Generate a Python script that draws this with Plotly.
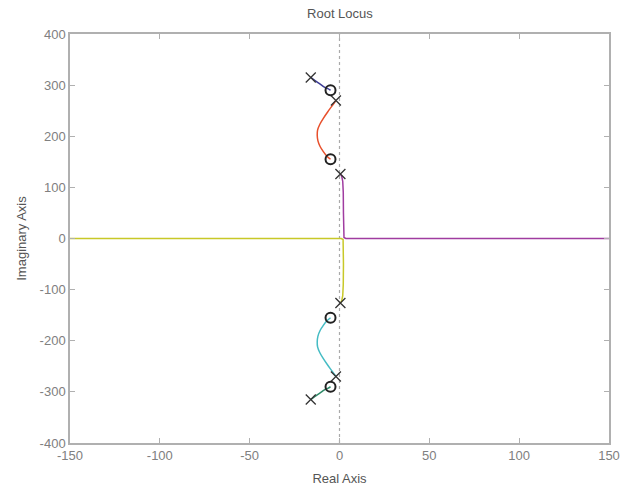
import plotly.graph_objects as go

# Poles and zeros
pole_re = [-16, -2, 0.5, 0.5, -2, -16]
pole_im = [315, 270, 126, -126, -270, -315]
zero_re = [-5, -5, -5, -5]
zero_im = [290, 155, -155, -290]

# Branches (upper half, lower half mirrored)
navy_re = [-16, -14, -12, -10, -8.4, -6.5, -5]
navy_im = [315, 310, 305, 300, 296, 293, 290]
red_re = [-2, -4, -6.5, -9, -11, -12.2, -12.4, -12, -10.8, -9, -7, -5]
red_im = [270, 260, 248, 235, 223, 212, 202, 191, 180, 170, 161, 155]
purple_re = [0.5, 1.2, 1.8, 2.1, 2.2, 2.3, 2.5, 3.5, 150]
purple_im = [126, 122, 112, 90, 50, 10, 2, 0, 0]
yellow_re = [0.5, 1.2, 1.8, 2.1, 2.2, 2.3, 2.0, 1.0, -150]
yellow_im = [-126, -122, -112, -90, -50, -10, -2, 0, 0]
cyan_re = red_re
cyan_im = [-v for v in red_im]
green_re = navy_re
green_im = [-v for v in navy_im]

branches = [
    (navy_re, navy_im, "#3b3b95", "spline"),
    (red_re, red_im, "#e8502c", "spline"),
    (purple_re, purple_im, "#a03ca0", "linear"),
    (yellow_re, yellow_im, "#c8c828", "linear"),
    (cyan_re, cyan_im, "#45bcc4", "spline"),
    (green_re, green_im, "#2e8a68", "spline"),
]

x_range = [-150, 150]
y_range = [-400, 400]
x_ticks = [-150, -100, -50, 0, 50, 100, 150]
y_ticks = [-400, -300, -200, -100, 0, 100, 200, 300, 400]
x_tick_text = ["-150", "-100", "-50", "0", "50", "100", "150"]
y_tick_text = ["-400", "-300", "-200", "-100", "0", "100", "200", "300", "400"]

fig = go.Figure()

# dotted imaginary axis line
fig.add_trace(go.Scatter(x=[0, 0], y=y_range, mode="lines",
                         line=dict(color="#aaaaaa", width=1.2, dash="dot"),
                         hoverinfo="skip", showlegend=False))

for re, im, col, shp in branches:
    fig.add_trace(go.Scatter(x=re, y=im, mode="lines",
                             line=dict(color=col, width=1.5, shape=shp),
                             showlegend=False))

fig.add_trace(go.Scatter(x=pole_re, y=pole_im, mode="markers",
                         marker=dict(symbol="x-thin-open", size=10,
                                     color="#333333",
                                     line=dict(color="#333333", width=1.3)),
                         showlegend=False))
fig.add_trace(go.Scatter(x=zero_re, y=zero_im, mode="markers",
                         marker=dict(symbol="circle-open", size=10,
                                     color="#222222",
                                     line=dict(color="#222222", width=2)),
                         showlegend=False))

font_fam = "Liberation Sans, Arial"
axis_common = dict(showline=True, linecolor="#b0b0b0", linewidth=1.5,
                   mirror="ticks", ticks="inside", ticklen=5,
                   tickcolor="#b0b0b0", showgrid=False, zeroline=False,
                   automargin=False,
                   tickfont=dict(family=font_fam, size=13, color="#808080"))

fig.update_layout(
    width=633, height=486,
    margin=dict(l=70, r=24, t=34, b=43),
    plot_bgcolor="white", paper_bgcolor="white",
    title=dict(text="Root Locus", x=0.537, xanchor="center", y=0.972,
               yanchor="middle",
               font=dict(family=font_fam, size=13, color="#555555")),
    xaxis=dict(range=x_range, tickvals=x_ticks, ticktext=x_tick_text,
               title=dict(text="Real Axis", standoff=12,
                          font=dict(family=font_fam, size=13, color="#555555")),
               **axis_common),
    yaxis=dict(range=y_range, tickvals=y_ticks, ticktext=y_tick_text,
               title=dict(text="Imaginary Axis", standoff=10,
                          font=dict(family=font_fam, size=13, color="#555555")),
               **axis_common),
)

fig.write_html("out.html")
